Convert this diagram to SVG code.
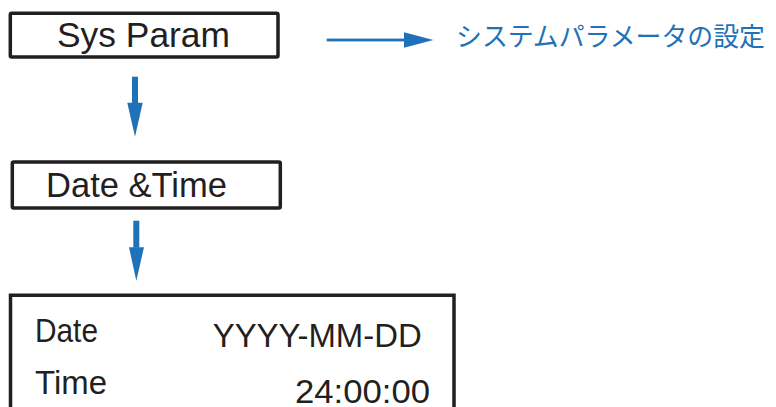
<svg xmlns="http://www.w3.org/2000/svg" width="776" height="407" viewBox="0 0 776 407">
<style>
.box{fill:#fff;stroke:#231f20;stroke-width:3.5}
.t{font-family:"Liberation Sans",Arial,sans-serif;fill:#231f20}
.blue{fill:#1f72b8}
.jp{font-family:"Noto Sans CJK JP","Noto Sans",sans-serif;fill:#1f72b8;font-weight:400}
</style>
<rect width="776" height="407" fill="#fff"/>
<g id="sysparam">
<rect class="box" x="10.3" y="13.3" width="267.7" height="43.7" rx="1.5"/>
<text class="t" x="57" y="47" font-size="35" textLength="173" lengthAdjust="spacingAndGlyphs">Sys Param</text>
</g>
<g id="datetime">
<rect class="box" x="12.3" y="162" width="268" height="46" rx="1.5"/>
<text class="t" x="46" y="196.7" font-size="34.5" textLength="181" lengthAdjust="spacingAndGlyphs">Date &amp;Time</text>
</g>
<g id="display">
<path class="box" d="M10.5 420 V295.3 H454 V420"/>
<text class="t" x="35" y="341.7" font-size="33" textLength="63" lengthAdjust="spacingAndGlyphs">Date</text>
<text class="t" x="212.7" y="346.5" font-size="33" textLength="209" lengthAdjust="spacingAndGlyphs">YYYY-MM-DD</text>
<text class="t" x="35" y="394.3" font-size="33" textLength="72" lengthAdjust="spacingAndGlyphs">Time</text>
<text class="t" x="295" y="402.5" font-size="32.5" textLength="135" lengthAdjust="spacingAndGlyphs">24:00:00</text>
</g>
<g id="note">
<text class="jp" x="456" y="46" font-size="26.5" textLength="309" lengthAdjust="spacingAndGlyphs">システムパラメータの設定</text>
</g>
<g id="connectors">
<rect class="blue" x="132" y="76.7" width="6" height="27"/>
<polygon class="blue" points="127.3,102.7 142.7,102.7 135,136.7"/>
<rect class="blue" x="133.3" y="220.7" width="6" height="27"/>
<polygon class="blue" points="129,247.3 144,247.3 136.3,280.7"/>
<rect class="blue" x="326.7" y="38.6" width="78" height="2.8"/>
<polygon class="blue" points="404,32.3 404,47.7 433.3,40"/>
</g>
</svg>
